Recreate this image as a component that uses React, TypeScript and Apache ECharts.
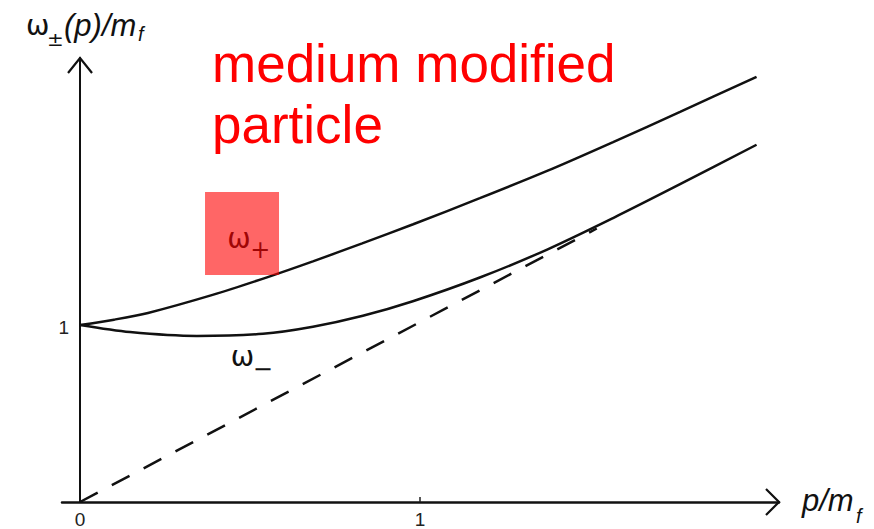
import { useEffect, useRef } from 'react';
import * as echarts from 'echarts';

// Dispersion branches of the medium-modified fermion (in units of m_f)
const upperP = [0, 0.1, 0.2, 0.39, 0.55, 0.685, 0.83, 0.98, 1.176, 1.374, 1.568, 1.765, 1.99];
const upperOmega = [1.0, 1.03, 1.068, 1.17, 1.269, 1.359, 1.461, 1.569, 1.716, 1.87, 2.033, 2.204, 2.402];
const lowerP = [0, 0.147, 0.344, 0.538, 0.685, 0.832, 0.979, 1.176, 1.374, 1.568, 1.765, 1.99];
const lowerOmega = [1.0, 0.96, 0.938, 0.95, 0.99, 1.052, 1.134, 1.268, 1.426, 1.604, 1.795, 2.018];
// Free massless line omega = p
const lightConeP = [0, 1.52];
const lightConeOmega = [0, 1.545];

const xTickLabels = [0, 1];
const yTickLabels = [1];

const X_MIN = -0.053;
const X_MAX = 2.056;
const Y_MIN = 0;
const Y_MAX = 2.508;

const pairs = (xs: number[], ys: number[]) => xs.map((x, i) => [x, ys[i]]);

const INK = '#111';
const SANS = 'Liberation Sans';
const GREEK = 'DejaVu Sans';

type Piece = { text: string; x: number; y: number; size: number; font: string; italic?: boolean };

// one graphic text element per glyph group, so sub/superscripts can be placed freely
const pieceToGraphic = (p: Piece, z = 5) => ({
  type: 'text',
  x: p.x,
  y: p.y,
  z,
  style: {
    text: p.text,
    fontSize: p.size,
    fontFamily: p.font,
    fontStyle: p.italic ? 'italic' : 'normal',
    fill: INK,
    align: 'left',
    verticalAlign: 'middle',
  },
});

export default function App() {
  const ref = useRef<HTMLDivElement>(null);

  useEffect(() => {
    if (!ref.current) return;
    const chart = echarts.init(ref.current, null, { renderer: 'svg' });
    const curveStyle = { color: INK, width: 2.5 };

    chart.setOption({
      animation: false,
      backgroundColor: '#ffffff',
      grid: { left: 62, right: 95, top: 58, bottom: 27 },
      xAxis: {
        type: 'value',
        min: X_MIN,
        max: X_MAX,
        splitLine: { show: false },
        axisLine: { show: true, onZero: true, lineStyle: { color: INK, width: 2.5 } },
        axisTick: { show: true, inside: true, length: 5, customValues: [1], lineStyle: { color: '#222', width: 1.5 } },
        axisLabel: { show: false },
      },
      yAxis: {
        type: 'value',
        min: Y_MIN,
        max: Y_MAX,
        splitLine: { show: false },
        axisLine: { show: true, onZero: true, lineStyle: { color: INK, width: 2 } },
        axisTick: { show: false },
        axisLabel: { show: false },
      },
      series: [
        {
          name: 'omega_plus',
          type: 'line',
          data: pairs(upperP, upperOmega),
          showSymbol: false,
          smooth: 0.3,
          lineStyle: curveStyle,
          z: 3,
        },
        {
          name: 'omega_minus',
          type: 'line',
          data: pairs(lowerP, lowerOmega),
          showSymbol: false,
          smooth: 0.3,
          lineStyle: curveStyle,
          z: 3,
        },
        {
          name: 'light_cone',
          type: 'line',
          data: pairs(lightConeP, lightConeOmega),
          showSymbol: false,
          lineStyle: { color: INK, width: 2.5, type: [20, 16] },
          z: 2,
        },
      ],
    });

    const px = (x: number, y: number) => chart.convertToPixel({ gridIndex: 0 }, [x, y]) as number[];
    const origin = px(0, 0);
    const topTip = px(0, Y_MAX);
    const rightTip = px(X_MAX, 0);
    const plus = px(0.43, 1.49);
    const minus = px(0.446, 0.82);

    const tickTexts = [
      ...xTickLabels.map((v) => {
        const p = px(v, 0);
        return { type: 'text', x: p[0], y: p[1] + 17, style: { text: String(v), fontSize: 19, fontFamily: SANS, fill: '#222', align: 'center', verticalAlign: 'middle' } };
      }),
      ...yTickLabels.map((v) => {
        const p = px(0, v);
        return { type: 'text', x: p[0] - 11, y: p[1] + 3, style: { text: String(v), fontSize: 19, fontFamily: SANS, fill: '#222', align: 'right', verticalAlign: 'middle' } };
      }),
    ];

    const yName: Piece[] = [
      { text: 'ω', x: topTip[0] - 54, y: topTip[1] - 33, size: 28, font: GREEK },
      { text: '±', x: topTip[0] - 33, y: topTip[1] - 19, size: 20, font: GREEK },
      { text: '(p)/m', x: topTip[0] - 16, y: topTip[1] - 33, size: 31, font: SANS, italic: true },
      { text: 'f', x: topTip[0] + 58, y: topTip[1] - 24, size: 20, font: SANS, italic: true },
    ];
    const xName: Piece[] = [
      { text: 'p/m', x: rightTip[0] + 23, y: rightTip[1] - 2, size: 31, font: SANS, italic: true },
      { text: 'f', x: rightTip[0] + 77, y: rightTip[1] + 14, size: 20, font: SANS, italic: true },
    ];
    const plusLabel: Piece[] = [
      { text: 'ω', x: plus[0] + 1, y: plus[1], size: 28, font: GREEK },
      { text: '+', x: plus[0] + 24, y: plus[1] + 12, size: 24, font: GREEK },
    ];
    const minusLabel: Piece[] = [
      { text: 'ω', x: minus[0] - 1, y: minus[1], size: 28, font: GREEK },
      { text: '−', x: minus[0] + 21, y: minus[1] + 12, size: 24, font: GREEK },
    ];

    chart.setOption({
      graphic: [
        {
          type: 'polyline',
          shape: { points: [[topTip[0] - 12, topTip[1] + 15], [topTip[0], topTip[1]], [topTip[0] + 12, topTip[1] + 15]] },
          style: { stroke: INK, lineWidth: 2.2, fill: 'none' },
        },
        {
          type: 'polyline',
          shape: { points: [[rightTip[0] - 13, rightTip[1] - 13], [rightTip[0], rightTip[1]], [rightTip[0] - 13, rightTip[1] + 13]] },
          style: { stroke: INK, lineWidth: 2.2, fill: 'none' },
        },
        ...tickTexts,
        ...yName.map((p) => pieceToGraphic(p)),
        ...xName.map((p) => pieceToGraphic(p)),
        ...plusLabel.map((p) => pieceToGraphic(p)),
        ...minusLabel.map((p) => pieceToGraphic(p)),
        {
          type: 'rect',
          shape: { x: origin[0] + 125, y: 192, width: 74, height: 83 },
          style: { fill: 'rgba(255,0,0,0.6)' },
          z: 10,
        },
        {
          type: 'text',
          x: 212,
          y: 33,
          style: {
            text: 'medium modified\nparticle',
            fontSize: 53,
            lineHeight: 61,
            fontFamily: SANS,
            fill: '#ff0000',
            align: 'left',
            verticalAlign: 'top',
          },
          z: 12,
        },
      ],
    });

    return () => chart.dispose();
  }, []);

  return (
    <div
      ref={ref}
      style={{ position: 'fixed', left: 0, top: 0, width: 874, height: 529, background: '#fff' }}
    />
  );
}
